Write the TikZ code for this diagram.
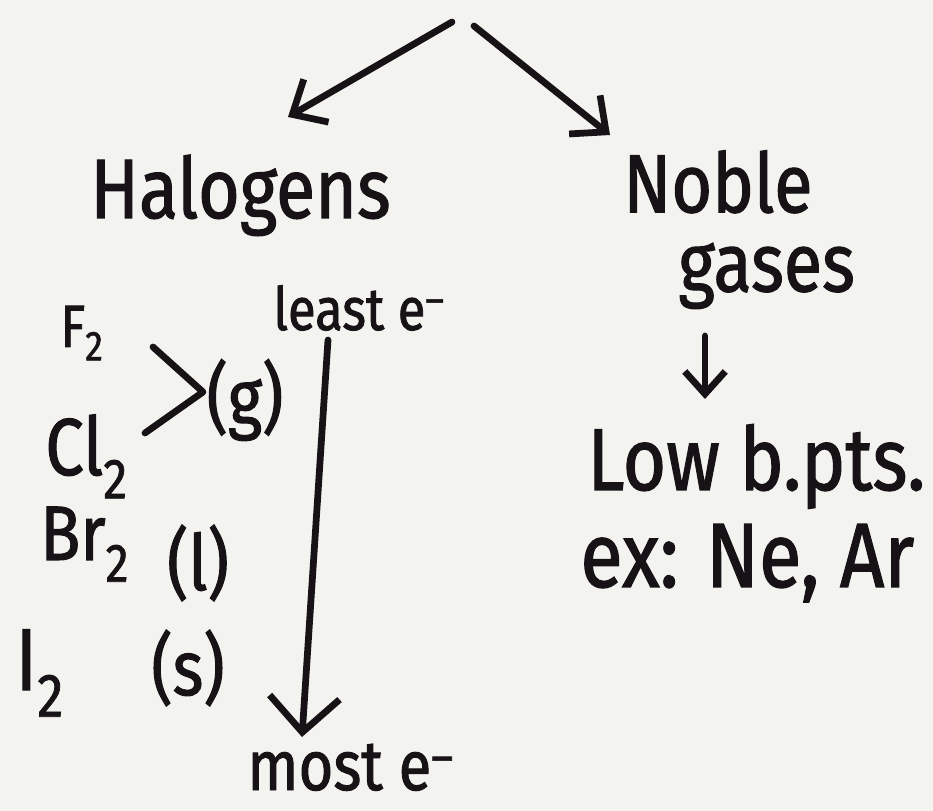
\documentclass[tikz,border=0pt]{standalone}
\usepackage{fontspec}
\setmainfont[FakeStretch=0.85, FakeBold=1.3]{Fira Sans}
\usetikzlibrary{arrows.meta}
\definecolor{paper}{RGB}{243,243,240}
\definecolor{ink}{RGB}{22,18,22}
\tikzset{
  hand/.style={font=\fontsize{#1}{#1}\selectfont, text=ink, inner sep=0pt, anchor=base west},
  pen/.style={draw=ink, line width=1.35mm, line cap=round, line join=round},
  barb/.style={-{Straight Barb[length=#1, width=1.8*#1]}}
}
\begin{document}
\begin{tikzpicture}[x=0.2mm, y=-0.2mm]
  \fill[paper] (0,0) rectangle (933,811);
  \useasboundingbox (0,0) rectangle (933,811);

  % the two groups
  \coordinate (apexL) at (452,22);
  \coordinate (apexR) at (474,26);
  \coordinate (tipL) at (288,117);
  \coordinate (tipR) at (610,135);
  \draw[pen, barb=5.5mm] (apexL) -- (tipL);
  \draw[pen, barb=5.5mm] (apexR) -- (tipR);

  \node[hand=48] (halo) at (90,218) {Halogens};
  \node[font=\fontsize{47}{45}\selectfont, text=ink, inner sep=0pt, align=left,
        anchor=north west] (noble) at (623,150) {Noble\\\hspace*{11mm}gases};

  % halogens and their states
  \foreach \n/\x/\y/\s/\t in {f2/60/347/34/F\textsubscript{2}, cl2/45/475/46/Cl\textsubscript{2},
      br2/40/560/44/Br\textsubscript{2}, i2/15/690/50/I\textsubscript{2}} {
    \node[hand=\s] (\n) at (\x,\y) {\t};
  }
  \foreach \n/\x/\y/\t in {gas/245/400/(g), liq/198/563/(l), sol/188/668/(s)} {
    \node[hand=44, anchor=center] (\n) at (\x,\y) {\t};
  }
  \draw[pen] (153,347) -- (203,392) -- (145,433);

  % electron count
  \node[hand=34] (least) at (273,330) {least e\textsuperscript{--}};
  \node[hand=40] (most) at (247,790) {most e\textsuperscript{--}};
  \coordinate (eTop) at (328,340);
  \coordinate (eBot) at (302,737);
  \draw[pen, -{Straight Barb[length=7mm, width=14mm]}] (eTop) -- (eBot);

  % noble gases
  \coordinate (nTop) at (705,336);
  \coordinate (nBot) at (705,399);
  \draw[pen, barb=4.5mm] (nTop) -- (nBot);
  \node[hand=50] (low) at (587,490) {Low b.pts.};
  \node[hand=52] (ex) at (580,587) {ex: Ne, Ar};
\end{tikzpicture}
\end{document}
